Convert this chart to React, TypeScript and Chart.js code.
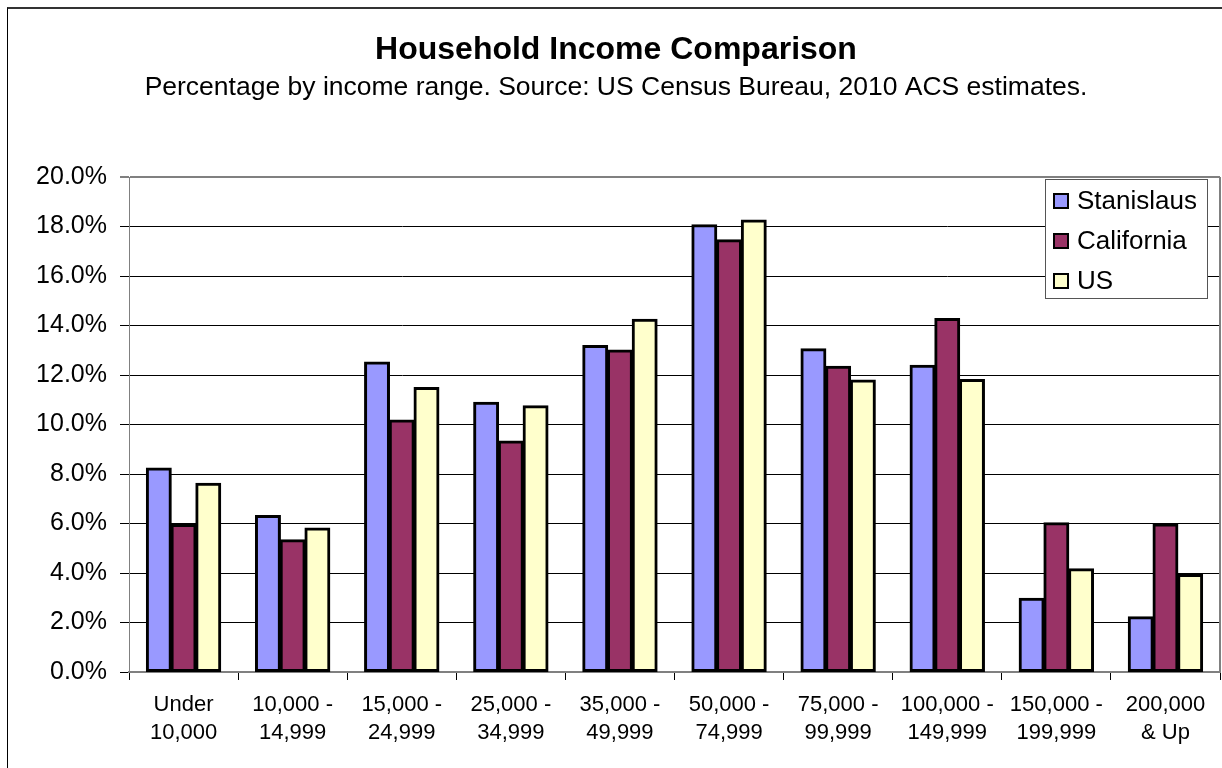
import React, { useEffect, useRef } from 'react';
import { Chart, registerables } from 'chart.js';

Chart.register(...registerables);

const categories: string[][] = [
  ['Under', '10,000'],
  ['10,000 -', '14,999'],
  ['15,000 -', '24,999'],
  ['25,000 -', '34,999'],
  ['35,000 -', '49,999'],
  ['50,000 -', '74,999'],
  ['75,000 -', '99,999'],
  ['100,000 -', '149,999'],
  ['150,000 -', '199,999'],
  ['200,000', '& Up'],
];

const seriesNames = ['Stanislaus', 'California', 'US'];
const seriesColors = ['#9999FF', '#993366', '#FFFFCC'];

const stanislaus = [8.24, 6.32, 12.52, 10.89, 13.19, 18.07, 13.06, 12.39, 2.98, 2.23];
const california = [5.96, 5.34, 10.18, 9.33, 13.01, 17.46, 12.35, 14.28, 6.03, 5.98];
const us = [7.62, 5.81, 11.49, 10.75, 14.25, 18.26, 11.79, 11.81, 4.17, 3.94];

const yMin = 0;
const yMax = 20;
const yStep = 2;

const titleText = 'Household Income Comparison';
const subtitleText = 'Percentage by income range. Source: US Census Bureau, 2010 ACS estimates.';

const FONT = 'Arial, "Liberation Sans", sans-serif';

const plotFrame = {
  id: 'plotFrame',
  beforeDatasetsDraw(chart: any) {
    const { ctx, chartArea } = chart;
    ctx.save();
    ctx.strokeStyle = '#808080';
    ctx.lineWidth = 2;
    ctx.beginPath();
    ctx.moveTo(chartArea.right, chartArea.top);
    ctx.lineTo(chartArea.right, chartArea.bottom);
    ctx.stroke();
    ctx.restore();
  },
};

const boxLegend = {
  id: 'boxLegend',
  afterDatasetsDraw(chart: any) {
    const { ctx, chartArea } = chart;
    const w = 163;
    const h = 120;
    const x0 = chartArea.right - 12 - w;
    const y0 = chartArea.top + 2;
    ctx.save();
    ctx.fillStyle = '#ffffff';
    ctx.fillRect(x0, y0, w, h);
    ctx.strokeStyle = '#555555';
    ctx.lineWidth = 1;
    ctx.strokeRect(x0 + 0.5, y0 + 0.5, w - 1, h - 1);
    ctx.font = `26px ${FONT}`;
    ctx.textBaseline = 'middle';
    ctx.textAlign = 'left';
    chart.data.datasets.forEach((ds: any, i: number) => {
      const cy = y0 + 22 + i * 40;
      ctx.fillStyle = '#000';
      ctx.fillRect(x0 + 8, cy - 8, 16, 16);
      ctx.fillStyle = ds.backgroundColor;
      ctx.fillRect(x0 + 10, cy - 6, 12, 12);
      ctx.fillStyle = '#000';
      ctx.fillText(ds.label, x0 + 32, cy + 1);
    });
    ctx.restore();
  },
};

export default function App() {
  const ref = useRef<HTMLCanvasElement | null>(null);

  useEffect(() => {
    if (!ref.current) return;
    Chart.defaults.font.family = FONT;
    Chart.defaults.color = '#000';
    const values = [stanislaus, california, us];
    const chart = new Chart(ref.current, {
      type: 'bar',
      data: {
        labels: categories,
        datasets: seriesNames.map((name, i) => ({
          label: name,
          data: values[i],
          backgroundColor: seriesColors[i],
          borderColor: '#000',
          borderWidth: 3,
          borderSkipped: false,
          inflateAmount: 0.6,
          categoryPercentage: 0.68,
          barPercentage: 1.0,
        })),
      },
      options: {
        animation: false,
        responsive: false,
        devicePixelRatio: 1,
        layout: { padding: { left: 12, right: 2, top: 0, bottom: 0 } },
        plugins: {
          legend: { display: false },
          tooltip: { enabled: false },
          title: {
            display: true,
            text: titleText,
            color: '#000',
            font: { size: 32, weight: 'bold', family: FONT, lineHeight: 1.2 },
            padding: { top: 30.5, bottom: 0 },
          },
          subtitle: {
            display: true,
            text: subtitleText,
            color: '#000',
            font: { size: 26.5, family: FONT, lineHeight: 1.2 },
            padding: { top: 3, bottom: 73.3 },
          },
        },
        scales: {
          x: {
            afterFit: (scale: any) => {
              scale.height = 96;
            },
            grid: {
              offset: true,
              drawOnChartArea: false,
              drawTicks: true,
              tickLength: 8,
              tickColor: '#000',
              tickWidth: 1,
            },
            border: { color: '#808080', width: 2 },
            ticks: {
              color: '#000',
              padding: 11,
              maxRotation: 0,
              minRotation: 0,
              autoSkip: false,
              font: { size: 22, family: FONT, lineHeight: 28 / 22 },
            },
          },
          y: {
            min: yMin,
            max: yMax,
            afterFit: (scale: any) => {
              scale.width = 117;
            },
            grid: {
              color: (c: any) => (c.tick && (c.tick.value === yMax || c.tick.value === yMin) ? '#808080' : '#000'),
              lineWidth: (c: any) => (c.tick && c.tick.value === yMax ? 2 : 1),
              tickLength: 9,
              tickColor: '#000',
              tickWidth: 1,
            },
            border: { color: '#808080', width: 1 },
            ticks: {
              stepSize: yStep,
              color: '#000',
              padding: 13,
              font: { size: 25, family: FONT },
              callback: (v: any) => Number(v).toFixed(1) + '%',
            },
          },
        },
      },
      plugins: [plotFrame, boxLegend],
    });
    return () => chart.destroy();
  }, []);

  return (
    <>
      <style>{`html,body{overflow:hidden;background:#fff;}`}</style>
      <div
        style={{
          position: 'absolute',
          left: 7,
          top: 7,
          width: 1400,
          height: 1000,
          borderLeft: '1px solid #000',
          borderTop: '2px solid #333',
          boxSizing: 'border-box',
        }}
      />
      <canvas
        ref={ref}
        width={1222}
        height={768}
        style={{ position: 'absolute', left: 0, top: 0, width: 1222, height: 768, display: 'block' }}
      />
    </>
  );
}
